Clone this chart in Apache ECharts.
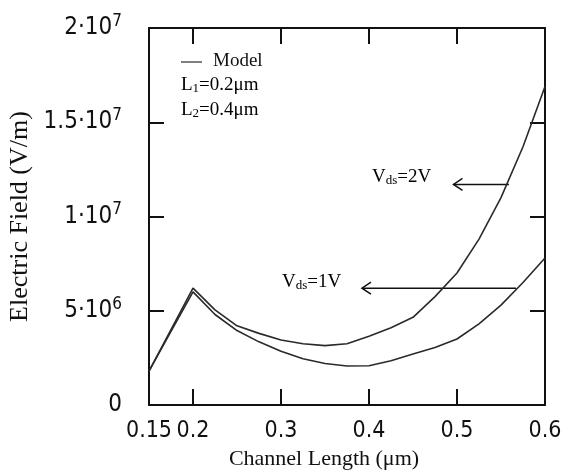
<!DOCTYPE html>
<html>
<head>
<meta charset="utf-8">
<script src="https://cdn.jsdelivr.net/npm/echarts@6/dist/echarts.min.js"></script>
<style>
  html, body { margin: 0; padding: 0; background: #fff; }
  #main { width: 562px; height: 474px; }
</style>
</head>
<body>
<div id="main"></div>
<script>
// channel position (um)
var lengths = [0.15, 0.175, 0.2, 0.225, 0.25, 0.275, 0.3, 0.325, 0.35, 0.375, 0.4,
               0.425, 0.45, 0.475, 0.5, 0.525, 0.55, 0.575, 0.6];
// electric field, V/m
var field2V = [1.8e6, 4.0e6, 6.2e6, 5.05e6, 4.2e6, 3.8e6, 3.45e6, 3.25e6, 3.15e6, 3.25e6, 3.65e6,
               4.1e6, 4.65e6, 5.75e6, 7.0e6, 8.8e6, 11.0e6, 13.7e6, 16.9e6];
var field1V = [1.8e6, 3.9e6, 6.0e6, 4.8e6, 3.95e6, 3.35e6, 2.85e6, 2.45e6, 2.2e6, 2.07e6, 2.08e6,
               2.35e6, 2.7e6, 3.05e6, 3.5e6, 4.3e6, 5.3e6, 6.5e6, 7.8e6];

var xTicks = [0.15, 0.2, 0.3, 0.4, 0.5, 0.6];
var yTickBase = ['0', '5\u00b710', '1\u00b710', '1.5\u00b710', '2\u00b710'];
var yTickExp = ['', '6', '7', '7', '7'];

// arrows: [tail x, head x, y] in data units
var arrow2V = [0.559, 0.496, 11.7e6];
var arrow1V = [0.567, 0.392, 6.2e6];

var numFont = "'DejaVu Sans Condensed', 'Liberation Sans Narrow', sans-serif";
var serif = "'Liberation Serif', 'DejaVu Serif', serif";

var chart = echarts.init(document.getElementById('main'));

function pairs(ys) {
  return lengths.map(function (x, i) { return [x, ys[i]]; });
}

function xAxisOpt(pos, showLabel) {
  return {
    type: 'value', position: pos, min: 0.15, max: 0.6,
    axisLine: { show: true, onZero: false, lineStyle: { color: '#111', width: 2 } },
    axisTick: { show: true, inside: true, length: 16, customValues: xTicks, lineStyle: { color: '#111', width: 2 } },
    axisLabel: {
      show: showLabel, customValues: xTicks, margin: 15, hideOverlap: false,
      showMinLabel: true, showMaxLabel: true,
      fontFamily: numFont, fontSize: 23, color: '#111',
      formatter: function (v) { return String(+v.toFixed(2)); }
    },
    splitLine: { show: false }
  };
}

function yAxisOpt(pos, showLabel) {
  return {
    type: 'value', position: pos, min: 0, max: 2e7, interval: 5e6,
    axisLine: { show: true, onZero: false, lineStyle: { color: '#111', width: 2 } },
    axisTick: { show: true, inside: true, length: 15, lineStyle: { color: '#111', width: 2 } },
    axisLabel: {
      show: showLabel, margin: 27,
      formatter: function (v) {
        var i = Math.round(v / 5e6);
        if (!yTickExp[i]) return '{b|' + yTickBase[i] + '}';
        return '{b|' + yTickBase[i] + '}{e|' + yTickExp[i] + '}';
      },
      rich: {
        b: { fontFamily: numFont, fontSize: 24, color: '#111' },
        e: { fontFamily: numFont, fontSize: 17, color: '#111', padding: [0, 0, 13, 0] }
      }
    },
    splitLine: { show: false }
  };
}

var xBottom = xAxisOpt('bottom', true);
xBottom.name = 'Channel Length (\u03bcm)';
xBottom.nameLocation = 'middle';
xBottom.nameGap = 37;
xBottom.nameTextStyle = { fontFamily: serif, fontSize: 22, color: '#111', padding: [0, 46, 0, 0] };

var yLeft = yAxisOpt('left', true);
yLeft.name = 'Electric Field (V/m)';
yLeft.nameLocation = 'middle';
yLeft.nameGap = 101;
yLeft.nameTextStyle = { fontFamily: serif, fontSize: 26, color: '#111' };

var lineStyle = { color: '#2a2a2a', width: 1.6 };

chart.setOption({
  animation: false,
  backgroundColor: '#fff',
  grid: { left: 149, top: 28, right: 17, bottom: 69, outerBoundsMode: 'none' },
  xAxis: [xBottom, xAxisOpt('top', false)],
  yAxis: [yLeft, yAxisOpt('right', false)],
  series: [
    { name: 'Vds=2V', type: 'line', data: pairs(field2V), showSymbol: false, lineStyle: lineStyle },
    { name: 'Vds=1V', type: 'line', data: pairs(field1V), showSymbol: false, lineStyle: lineStyle }
  ]
});

function arrowGraphics(a) {
  var tail = chart.convertToPixel({ gridIndex: 0 }, [a[0], a[2]]);
  var head = chart.convertToPixel({ gridIndex: 0 }, [a[1], a[2]]);
  return [
    { type: 'line', shape: { x1: tail[0], y1: tail[1], x2: head[0], y2: head[1] },
      style: { stroke: '#111', lineWidth: 1.5 } },
    { type: 'polyline', shape: { points: [[head[0] + 9, head[1] - 6], [head[0], head[1]], [head[0] + 9, head[1] + 6]] },
      style: { stroke: '#111', lineWidth: 1.5, fill: null } }
  ];
}

var labelRich = {
  t: { fontFamily: serif, fontSize: 19, color: '#111' },
  s: { fontFamily: serif, fontSize: 13, color: '#111', padding: [6, 0, 0, 0] }
};

chart.setOption({
  graphic: [
    { type: 'line', shape: { x1: 181, y1: 62, x2: 202, y2: 62 }, style: { stroke: '#555', lineWidth: 1.5 } },
    { type: 'text', left: 213, top: 52, style: { text: 'Model', font: "19px 'Liberation Serif', serif", fill: '#111' } },
    { type: 'text', left: 181, top: 76, style: { text: '{t|L}{s|1}{t|=0.2\u03bcm}', rich: labelRich } },
    { type: 'text', left: 181, top: 101, style: { text: '{t|L}{s|2}{t|=0.4\u03bcm}', rich: labelRich } },
    { type: 'text', left: 372, top: 168, style: { text: '{t|V}{s|ds}{t|=2V}', rich: labelRich } },
    { type: 'text', left: 282, top: 273, style: { text: '{t|V}{s|ds}{t|=1V}', rich: labelRich } }
  ].concat(arrowGraphics(arrow2V), arrowGraphics(arrow1V))
});
</script>
</body>
</html>
